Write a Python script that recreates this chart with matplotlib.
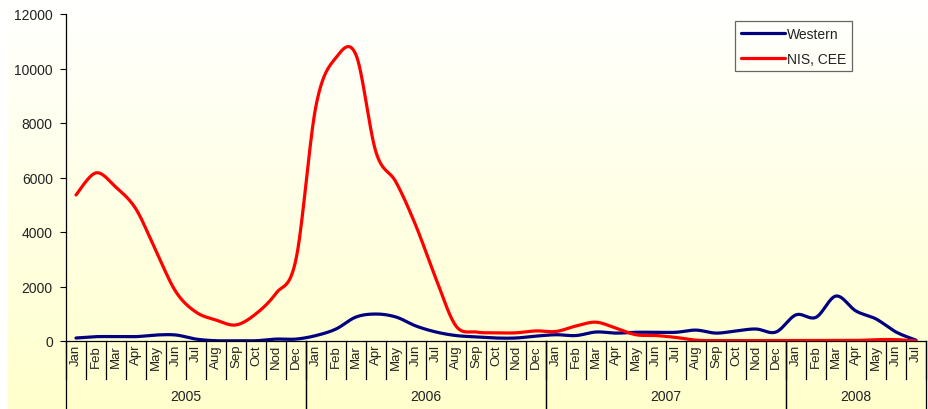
import numpy as np
import matplotlib
matplotlib.use("Agg")
import matplotlib.pyplot as plt
import matplotlib.transforms as mtransforms
from matplotlib.lines import Line2D

plt.rcParams['font.family'] = ['Liberation Sans', 'DejaVu Sans']

months = ["Jan", "Feb", "Mar", "Apr", "May", "Jun", "Jul", "Aug", "Sep", "Oct", "Nod", "Dec"]
years = ["2005", "2006", "2007", "2008"]
months_per_year = [12, 12, 12, 7]
month_labels = [m for n in months_per_year for m in months[:n]]

western = [110, 160, 160, 160, 220, 220, 70, 10, 10, 10, 70, 70,
           200, 440, 880, 990, 880, 550, 330, 200, 150, 110, 110, 180,
           230, 200, 330, 290, 320, 320, 320, 400, 290, 370, 440, 330,
           960, 870, 1650, 1100, 810, 330, 30]
nis_cee = [5360, 6170, 5640, 4840, 3300, 1800, 1060, 770, 590, 1000, 1750, 3000,
           8630, 10400, 10500, 6930, 5830, 4220, 2280, 550, 330, 300, 300, 370,
           350, 550, 690, 470, 230, 200, 130, 30, 15, 15, 15, 15,
           20, 20, 20, 20, 50, 50, 0]
series_names = ["Western", "NIS, CEE"]
series_colors = ["#000080", "#FF0000"]


def smooth(y, n=30):
    y = np.asarray(y, float)
    x = np.arange(len(y), dtype=float)
    pts = np.column_stack([x, y])
    out = []
    t = np.linspace(0, 1, n)[:, None]
    for i in range(len(pts) - 1):
        p0 = pts[i - 1] if i > 0 else pts[i]
        p1 = pts[i]
        p2 = pts[i + 1]
        p3 = pts[i + 2] if i + 2 < len(pts) else pts[i + 1]
        c1 = p1 + (p2 - p0) / 6.0
        c2 = p2 - (p3 - p1) / 6.0
        seg = ((1 - t) ** 3) * p1 + 3 * ((1 - t) ** 2) * t * c1 + 3 * (1 - t) * t ** 2 * c2 + t ** 3 * p2
        out.append(seg if i == 0 else seg[1:])
    out = np.vstack(out)
    return out[:, 0], out[:, 1]


W, H = 929, 410
fig = plt.figure(figsize=(W / 100, H / 100), dpi=100)

# gradient background
bg = fig.add_axes([8 / W, 0, 1 - 8 / W, 1])
grad = np.linspace(0, 1, 256)[:, None]
top = np.array([1.0, 1.0, 1.0])
bot = np.array([1.0, 1.0, 0.80])
img = top[None, None, :] * (1 - grad[:, :, None]) + bot[None, None, :] * grad[:, :, None]
bg.imshow(img, aspect='auto', extent=[0, 1, 0, 1])
bg.set_axis_off()

x0, x1 = 66, 926
ytop, ybot = 15, 342
ax = fig.add_axes([x0 / W, (H - ybot) / H, (x1 - x0) / W, (ybot - ytop) / H])
ax.patch.set_alpha(0)

n = len(month_labels)
for vals, name, col in zip([western, nis_cee], series_names, series_colors):
    xs, ys = smooth(vals)
    ax.plot(xs, ys, color=col, lw=2.3, label=name, solid_capstyle='round', zorder=3)

ax.set_xlim(-0.5, n - 0.5)
ax.set_ylim(0, 12000)
ax.set_yticks(np.arange(0, 12001, 2000))
ax.tick_params(axis='y', direction='out', length=4.5, width=0.8, pad=5, labelsize=10, labelcolor='#222222')
ax.set_xticks([])
for s in ['top', 'right']:
    ax.spines[s].set_visible(False)
ax.spines['left'].set_linewidth(0.9)
ax.spines['bottom'].set_linewidth(0.9)

# hierarchical x-axis
ah = ybot - ytop
trans = mtransforms.blended_transform_factory(ax.transData, ax.transAxes)
month_bottom = -(380 - ybot) / ah
year_bottom = -(H - ybot) / ah - 0.01
for i in range(n + 1):
    xb = i - 0.5
    ax.add_line(Line2D([xb, xb], [0, month_bottom], transform=trans, color='black', lw=0.9, clip_on=False))
for i, m in enumerate(month_labels):
    ax.text(i, -(345 - ybot) / ah, m, transform=trans, rotation=90, ha='center', va='top',
            fontsize=9.5, color='#222222', clip_on=False)
start = 0
for yname, cnt in zip(years, months_per_year):
    for xb in (start - 0.5, start + cnt - 0.5):
        ax.add_line(Line2D([xb, xb], [0, year_bottom], transform=trans, color='black', lw=0.9, clip_on=False))
    ax.text(start + (cnt - 1) / 2, -(397 - ybot) / ah, yname, transform=trans, ha='center', va='center',
            fontsize=10, color='#222222', clip_on=False)
    start += cnt

leg = ax.legend(loc='upper left', bbox_to_anchor=((735 - x0) / (x1 - x0), (ybot - 22) / ah),
                frameon=True, fancybox=False, fontsize=10, handlelength=3.2, handletextpad=0.15,
                borderpad=0.4, labelspacing=0.8, borderaxespad=0)
leg.get_frame().set_edgecolor('#404040')
leg.get_frame().set_linewidth(0.9)
leg.get_frame().set_facecolor('none')
for t in leg.get_texts():
    t.set_color('#222222')

fig.savefig('out.png', dpi=100)
